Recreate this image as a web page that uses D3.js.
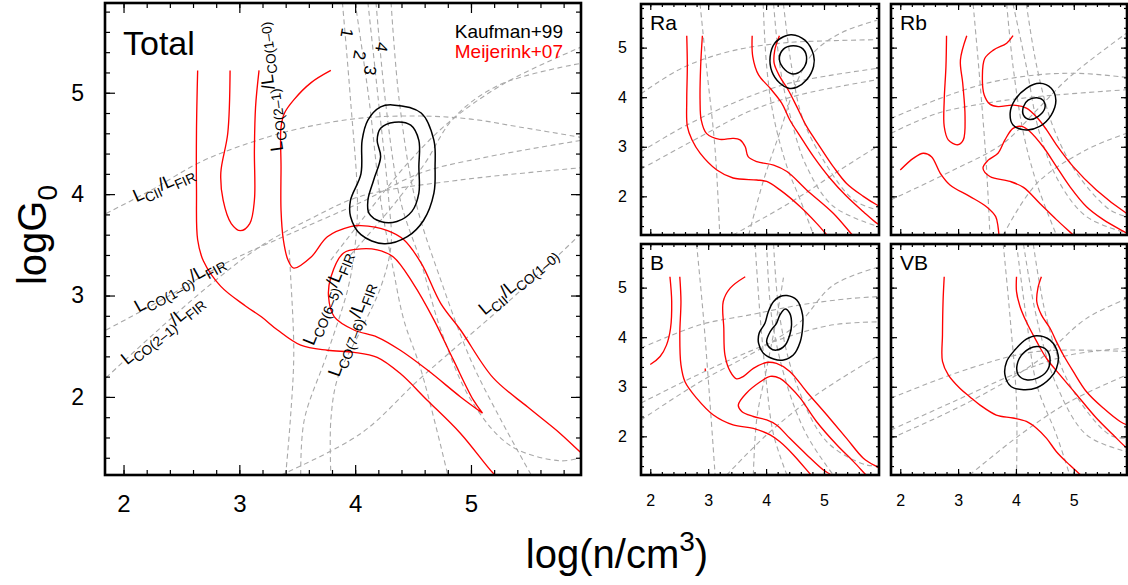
<!DOCTYPE html>
<html>
<head>
<meta charset="utf-8">
<script src="https://cdn.jsdelivr.net/npm/d3@7"></script>
<style>
  body { margin: 0; background: #fff; }
  svg { display: block; }
  text { font-family: "Liberation Sans", Arial, Helvetica, sans-serif; fill: #000; }
</style>
</head>
<body>
<svg id="chart" width="1128" height="585"></svg>
<script>

// ---- data: curves as [log n, log G0] points ----

let majorTicks = [2, 3, 4, 5];

// Total panel
let totalBlack = [
    [[4.32,4.88],[4.57,4.80],[4.68,4.53],[4.69,4.27],[4.68,4.01],[4.59,3.74],[4.45,3.58],[4.25,3.51],[4.05,3.60],[3.96,3.78],[3.96,3.94],[4.05,4.20],[4.06,4.53],[4.11,4.73],[4.22,4.86]],
    [[4.34,4.71],[4.48,4.68],[4.55,4.53],[4.55,4.27],[4.55,4.01],[4.49,3.83],[4.36,3.73],[4.22,3.73],[4.12,3.81],[4.11,3.94],[4.16,4.14],[4.22,4.37],[4.19,4.53],[4.22,4.65]]
];
let totalRed = [
    [[2.64,5.22],[2.63,4.63],[2.63,4.04],[2.64,3.55],[2.69,3.34],[2.84,3.09],[3.05,2.90],[3.19,2.79],[3.33,2.66],[3.53,2.51],[3.76,2.46],[3.99,2.44],[4.19,2.39],[4.39,2.23],[4.62,1.97],[4.91,1.64],[5.19,1.25],[5.25,1.19]],
    [[2.92,5.22],[2.90,4.60],[2.84,4.21],[2.86,3.94],[2.93,3.71],[3.01,3.64],[3.09,3.71],[3.13,3.94],[3.13,4.43],[3.14,4.86],[3.17,5.22]],
    [[3.79,5.22],[3.62,5.10],[3.47,4.93],[3.39,4.80],[3.36,4.66],[3.36,4.27],[3.36,3.84],[3.38,3.55],[3.42,3.35],[3.47,3.27],[3.62,3.38],[3.76,3.58],[3.96,3.68],[4.05,3.69],[4.28,3.64],[4.42,3.55],[4.57,3.32],[4.74,2.92],[4.91,2.66],[5.19,2.19],[5.49,1.90],[5.77,1.64],[5.95,1.45],[6.05,1.36]],
    [[5.10,1.84],[5.02,1.97],[4.85,2.36],[4.68,2.76],[4.50,3.12],[4.33,3.38],[4.19,3.45],[4.05,3.46],[3.90,3.42],[3.79,3.18],[3.77,2.99],[3.82,2.79],[3.99,2.66],[4.19,2.59],[4.39,2.46],[4.63,2.26],[4.91,2.00],[5.10,1.84]]
];
let totalGray = [
    [[1.85,3.81],[2.24,4.04],[2.67,4.32],[3.10,4.51],[3.53,4.65],[4.05,4.75],[4.57,4.77],[5.00,4.74],[5.43,4.66],[5.95,4.56]],
    [[1.85,2.66],[2.32,2.95],[2.90,3.33],[3.44,3.61],[4.05,3.92],[4.57,4.21],[5.11,4.36],[5.95,4.53]],
    [[1.85,2.19],[2.24,2.60],[2.73,3.09],[3.19,3.49],[3.62,3.76],[4.05,3.98],[4.91,4.14],[5.95,4.26]],
    [[3.79,3.35],[4.13,3.85],[4.45,4.30],[4.80,4.70],[5.30,5.10],[5.95,5.45]],
    [[3.96,3.40],[4.30,3.85],[4.60,4.30],[4.85,4.75],[5.25,5.08],[5.95,5.29]],
    [[3.36,1.23],[4.05,1.64],[4.54,2.16],[4.91,2.53],[5.43,3.05],[5.95,3.61]],
    [[3.89,5.89],[3.96,4.93],[4.02,3.94],[4.00,3.50],[3.94,3.08],[3.76,2.43],[3.56,1.77],[3.53,1.23]],
    [[4.11,5.89],[4.20,4.93],[4.29,3.94],[4.31,3.50],[4.22,3.08],[4.05,2.66],[3.85,2.19],[3.79,1.77],[3.79,1.23]],
    [[3.43,3.45],[3.44,3.25],[3.47,2.43],[3.44,1.77],[3.40,1.23]],
    [[4.00,5.89],[4.12,4.93],[4.22,3.94],[4.33,3.25],[4.42,2.76],[4.57,2.26],[4.80,1.23]],
    [[4.18,5.89],[4.26,4.93],[4.39,3.94],[4.57,3.32],[4.74,2.66],[5.00,1.97],[5.34,1.52],[5.77,1.37],[5.95,1.40]],
    [[4.31,5.89],[4.38,4.93],[4.52,3.94],[4.74,3.15],[5.00,2.36],[5.26,1.77],[5.52,1.23]]
];

// Ra panel
let raBlack = [
    [[4.44,5.26],[4.67,5.15],[4.82,4.85],[4.82,4.62],[4.70,4.35],[4.53,4.20],[4.39,4.18],[4.24,4.28],[4.10,4.52],[4.07,4.82],[4.15,5.09],[4.30,5.22]],
    [[4.47,5.04],[4.64,4.97],[4.70,4.76],[4.62,4.55],[4.47,4.47],[4.33,4.55],[4.23,4.76],[4.30,4.97]]
];
let raRed = [
    [[2.63,5.24],[2.64,4.62],[2.63,3.94],[2.64,3.41],[2.72,3.14],[2.86,2.87],[3.15,2.53],[3.43,2.37],[3.84,2.33],[4.01,2.30],[4.24,2.13],[4.59,1.79],[4.87,1.46],[5.05,1.22],[5.10,1.15]],
    [[2.90,5.24],[2.87,4.62],[2.86,3.94],[2.88,3.54],[2.97,3.27],[3.20,3.15],[3.43,3.17],[3.55,3.14],[3.64,3.00],[3.69,2.80],[3.84,2.70],[4.13,2.63],[4.36,2.50],[4.70,2.13],[5.16,1.66],[5.46,1.26],[5.52,1.18]],
    [[3.76,5.24],[3.77,4.82],[3.87,4.45],[4.07,4.18],[4.27,3.88],[4.41,3.54],[4.59,3.21],[4.82,2.80],[5.10,2.37],[5.39,2.00],[5.68,1.69],[5.91,1.46],[6.00,1.40]],
    [[4.23,5.24],[4.15,4.95],[4.14,4.68],[4.24,4.41],[4.38,4.15],[4.53,3.81],[4.70,3.41],[4.93,3.00],[5.16,2.60],[5.39,2.26],[5.68,2.00],[5.91,1.83],[6.00,1.78]]
];
let raGray = [
    [[1.84,4.07],[2.57,4.60],[3.43,4.94],[4.36,5.10],[5.16,5.14],[5.91,5.16]],
    [[1.84,2.90],[2.57,3.40],[3.43,3.88],[4.30,4.25],[5.16,4.45],[5.91,4.58]],
    [[1.84,2.55],[2.86,3.20],[3.72,3.72],[4.59,4.05],[5.91,4.35]],
    [[3.43,1.22],[4.01,1.60],[4.59,2.00],[5.30,2.55],[5.91,3.00]],
    [[2.86,5.88],[2.97,4.62],[3.12,2.94],[3.20,1.22]],
    [[3.95,5.88],[4.01,4.62],[4.13,3.61],[4.36,2.60],[4.59,1.93],[4.82,1.22]],
    [[4.13,5.88],[4.24,4.62],[4.42,3.61],[4.70,2.60],[5.16,1.80],[5.91,1.40]],
    [[4.30,5.88],[4.44,4.62],[4.62,3.61],[4.99,2.73],[5.51,1.93],[5.91,1.73]],
    [[3.70,1.22],[3.95,2.30],[4.24,3.30],[4.53,4.30],[4.82,4.90],[5.30,5.30],[5.91,5.55]]
];

// Rb panel
let rbBlack = [
    [[4.41,4.28],[4.61,4.18],[4.69,3.94],[4.61,3.64],[4.41,3.41],[4.18,3.34],[3.95,3.44],[3.90,3.68],[3.98,3.94],[4.18,4.18]],
    [[4.36,3.99],[4.47,3.94],[4.50,3.78],[4.38,3.61],[4.24,3.55],[4.13,3.64],[4.13,3.81],[4.21,3.94]]
];
let rbRed = [
    [[2.80,5.24],[2.79,4.62],[2.76,3.94],[2.76,3.41],[2.83,3.14],[2.99,3.04],[3.09,3.14],[3.12,3.61],[3.08,4.28],[3.04,4.75],[3.15,5.24]],
    [[3.95,5.24],[3.84,5.09],[3.61,4.95],[3.46,4.78],[3.42,4.41],[3.45,4.05],[3.55,3.86],[3.69,3.81],[3.95,3.84],[4.18,3.78],[4.38,3.57],[4.53,3.34],[4.70,3.04],[4.99,2.60],[5.39,2.13],[5.91,1.66],[6.00,1.60]],
    [[6.00,1.20],[5.91,1.26],[5.51,1.53],[5.22,1.79],[4.93,2.20],[4.70,2.60],[4.47,3.00],[4.24,3.31],[4.10,3.41],[3.95,3.37],[3.81,3.14],[3.69,2.87],[3.52,2.73],[3.43,2.57],[3.55,2.40],[3.90,2.30],[4.13,2.18],[4.41,1.86],[4.70,1.53],[4.99,1.22],[5.05,1.15]],
    [[2.00,2.53],[2.23,2.77],[2.40,2.87],[2.54,2.80],[2.69,2.47],[2.86,2.23],[3.20,2.00],[3.49,1.79],[3.65,1.59],[3.69,1.39],[3.71,1.15]]
];
let rbGray = [
    [[1.84,3.57],[2.63,3.95],[3.49,4.28],[4.36,4.45],[5.10,4.48],[5.91,4.40]],
    [[1.84,3.27],[2.63,3.67],[3.49,3.88],[4.36,4.01],[5.91,4.15]],
    [[1.84,1.93],[2.92,2.53],[3.78,3.07],[4.36,3.74],[4.93,4.41],[5.91,5.29]],
    [[3.78,1.22],[4.36,2.26],[5.22,2.94],[5.91,3.27]],
    [[3.26,5.88],[3.38,4.28],[3.49,2.60],[3.55,1.22]],
    [[3.84,5.88],[3.95,4.62],[4.13,3.27],[4.36,2.26],[4.70,1.22]],
    [[3.95,5.88],[4.18,4.62],[4.41,3.27],[4.76,2.26],[5.22,1.59],[5.91,1.26]],
    [[4.18,5.88],[4.36,4.62],[4.64,3.41],[5.05,2.47],[5.62,1.73],[5.91,1.59]]
];

// B panel
let bBlack = [
    [[4.36,4.84],[4.53,4.75],[4.63,4.45],[4.63,4.18],[4.59,3.91],[4.47,3.64],[4.30,3.54],[4.13,3.56],[3.95,3.68],[3.87,3.88],[3.88,4.08],[3.98,4.28],[4.04,4.52],[4.13,4.72],[4.24,4.82]],
    [[4.33,4.57],[4.41,4.48],[4.44,4.25],[4.41,4.05],[4.33,3.84],[4.18,3.74],[4.07,3.78],[4.01,3.91],[4.07,4.11],[4.18,4.28],[4.24,4.45]]
];
let bRed = [
    [[2.34,5.22],[2.37,4.72],[2.35,4.18],[2.28,3.84],[2.17,3.61],[2.00,3.45]],
    [[2.51,5.22],[2.53,4.72],[2.51,4.05],[2.53,3.44],[2.60,3.10],[2.80,2.77],[3.09,2.43],[3.43,2.23],[3.78,2.16],[4.07,2.03],[4.24,1.89],[4.47,1.63],[4.76,1.24],[4.82,1.16]],
    [[3.64,5.22],[3.38,4.99],[3.26,4.72],[3.27,4.18],[3.29,3.64],[3.38,3.31],[3.49,3.16],[3.61,3.21],[3.78,3.37],[4.01,3.49],[4.18,3.47],[4.41,3.31],[4.70,2.90],[5.05,2.43],[5.39,1.96],[5.68,1.56],[5.91,1.39],[6.00,1.34]],
    [[5.76,1.18],[5.71,1.24],[5.51,1.49],[5.22,1.83],[4.87,2.30],[4.59,2.77],[4.41,3.00],[4.24,3.17],[4.07,3.21],[3.90,3.10],[3.66,2.87],[3.52,2.63],[3.58,2.50],[3.78,2.40],[4.01,2.33],[4.18,2.23],[4.41,1.96],[4.70,1.63],[4.99,1.32],[5.10,1.24],[5.16,1.18]],
    [[2.95,3.37],[2.95,3.32]]
];
let bGray = [
    [[1.84,3.78],[2.86,4.25],[3.72,4.45],[4.59,4.65],[5.45,4.78],[5.96,4.82]],
    [[1.84,2.33],[2.86,3.10],[4.01,3.84],[4.59,4.31],[5.16,5.05],[5.96,5.42]],
    [[1.84,2.67],[2.57,3.10],[3.43,3.57],[4.30,3.98],[5.16,4.25],[5.96,4.31]],
    [[3.32,1.22],[4.01,2.03],[4.87,2.84],[5.96,3.64]],
    [[2.80,5.88],[2.92,4.38],[3.03,2.70],[3.12,1.22]],
    [[3.81,5.88],[3.90,4.38],[4.01,3.04],[4.13,2.03],[4.36,1.22]],
    [[4.01,5.88],[4.10,4.38],[4.36,3.04],[4.70,2.03],[5.16,1.22]],
    [[4.13,5.88],[4.24,4.38],[4.53,3.04],[5.05,1.89],[5.74,1.42],[5.96,1.42]],
    [[3.78,1.22],[3.84,2.36],[4.01,3.37],[4.18,4.38],[4.30,5.20]]
];

// VB panel
let vbBlack = [
    [[4.36,4.03],[4.59,3.94],[4.73,3.64],[4.70,3.37],[4.59,3.17],[4.36,2.98],[4.13,2.94],[3.92,3.00],[3.81,3.24],[3.84,3.51],[3.98,3.74],[4.18,3.96]],
    [[4.36,3.81],[4.53,3.74],[4.59,3.54],[4.53,3.31],[4.36,3.17],[4.18,3.14],[4.04,3.24],[4.02,3.44],[4.13,3.68]]
];
let vbRed = [
    [[2.76,5.22],[2.74,4.72],[2.73,4.05],[2.73,3.51],[2.83,3.24],[3.03,2.97],[3.20,2.80],[3.38,2.63],[3.66,2.43],[3.95,2.37],[4.18,2.30],[4.36,2.16],[4.53,1.96],[4.70,1.69],[4.93,1.42],[5.10,1.24],[5.16,1.18]],
    [[4.01,5.22],[4.01,4.92],[4.07,4.62],[4.18,4.31],[4.36,3.91],[4.53,3.57],[4.76,3.24],[5.05,2.84],[5.39,2.37],[5.68,2.03],[5.92,1.76],[6.00,1.70]],
    [[4.44,5.22],[4.38,4.99],[4.36,4.72],[4.44,4.45],[4.59,4.18],[4.70,3.91],[4.82,3.64],[4.99,3.31],[5.22,2.90],[5.51,2.57],[5.80,2.30],[5.92,2.23],[6.00,2.20]]
];
let vbGray = [
    [[1.84,2.77],[3.20,3.37],[4.36,3.71],[5.92,3.71]],
    [[1.84,2.13],[2.92,2.70],[4.07,3.30],[4.93,3.64],[5.92,3.78]],
    [[1.84,1.96],[3.20,2.70],[4.36,3.51],[5.22,4.38],[5.92,4.78]],
    [[3.20,1.22],[4.07,2.03],[4.93,2.70],[5.92,3.24]],
    [[3.78,5.88],[3.90,4.38],[4.01,2.70],[4.01,1.22]],
    [[4.01,5.88],[4.18,4.38],[4.36,3.04],[4.70,2.03],[4.93,1.22]],
    [[4.13,5.88],[4.36,4.38],[4.70,3.04],[5.22,2.03],[5.92,1.69]],
    [[4.30,5.88],[4.53,4.38],[4.93,3.04],[5.62,2.03],[5.92,1.96]]
];

// ---- layout ----

let Colors = {
    red: '#ff0000',
    black: '#000',
    gray: '#a9a9a9'
};

let panels = [
    { name: 'Total', x0: 105, x1: 581, y0: 3, y1: 475, xd: [1.84, 5.95], yd: [1.23, 5.885],
      red: totalRed, black: totalBlack, gray: totalGray, big: true, xLab: true, yLab: true },
    { name: 'Ra', x0: 641, x1: 879, y0: 4, y1: 235, xd: [1.84, 5.95], yd: [1.22, 5.88],
      red: raRed, black: raBlack, gray: raGray, xLab: false, yLab: true },
    { name: 'Rb', x0: 891, x1: 1127, y0: 4, y1: 235, xd: [1.84, 5.92], yd: [1.22, 5.88],
      red: rbRed, black: rbBlack, gray: rbGray, xLab: false, yLab: false },
    { name: 'B', x0: 641, x1: 879, y0: 244, y1: 475, xd: [1.84, 5.95], yd: [1.22, 5.88],
      red: bRed, black: bBlack, gray: bGray, xLab: true, yLab: true },
    { name: 'VB', x0: 891, x1: 1127, y0: 244, y1: 475, xd: [1.84, 5.92], yd: [1.22, 5.88],
      red: vbRed, black: vbBlack, gray: vbGray, xLab: true, yLab: false }
];

let svg = d3.select('#chart');

// text with sub/superscript pieces: parts = [[str, 'sub'|'sup'|undefined], ...]
function richText(g, parts, x, y, rot, size, anchor, subScale) {
    let sc = subScale || 0.7;
    let t = g.append('text')
        .attr('transform', `translate(${x},${y}) rotate(${rot})`)
        .attr('text-anchor', anchor || 'start')
        .style('font-size', size + 'px');
    let shift = 0;
    parts.forEach(p => {
        let want = p[1] === 'sub' ? size * 0.28 : p[1] === 'sup' ? -size * 0.42 : 0;
        let ts = t.append('tspan').text(p[0]).attr('dy', want - shift);
        if (p[1]) ts.style('font-size', (size * sc) + 'px');
        shift = want;
    });
    return t;
}

function drawPanel(p, idx) {
    let x = d3.scaleLinear().domain(p.xd).range([p.x0, p.x1]);
    let y = d3.scaleLinear().domain(p.yd).range([p.y1, p.y0]);
    let g = svg.append('g');

    let clipId = 'clip' + idx;
    svg.append('clipPath').attr('id', clipId)
        .append('rect')
        .attr('x', p.x0).attr('y', p.y0)
        .attr('width', p.x1 - p.x0).attr('height', p.y1 - p.y0);

    let plot = g.append('g').attr('clip-path', `url(#${clipId})`);

    let line = d3.line()
        .x(d => x(d[0])).y(d => y(d[1]))
        .curve(d3.curveCatmullRom.alpha(0.5));
    let loop = d3.line()
        .x(d => x(d[0])).y(d => y(d[1]))
        .curve(d3.curveCatmullRomClosed.alpha(0.5));

    plot.selectAll('path.gray')
        .data(p.gray)
        .join('path')
        .attr('class', 'gray')
        .attr('d', line)
        .attr('fill', 'none')
        .attr('stroke', Colors.gray)
        .attr('stroke-width', 1.1)
        .attr('stroke-dasharray', '5,3.5');

    plot.selectAll('path.red')
        .data(p.red)
        .join('path')
        .attr('class', 'red')
        .attr('d', line)
        .attr('fill', 'none')
        .attr('stroke', Colors.red)
        .attr('stroke-width', 1.35);

    plot.selectAll('path.black')
        .data(p.black)
        .join('path')
        .attr('class', 'black')
        .attr('d', loop)
        .attr('fill', 'none')
        .attr('stroke', Colors.black)
        .attr('stroke-width', 1.5);

    // ticks on all four sides, pointing inward
    let maj = p.big ? 10 : 6;
    let min = p.big ? 5 : 3;
    let minorX = d3.range(2, 6, 0.2).filter(v => v > p.xd[0] && v < p.xd[1]);
    let minorY = d3.range(1.4, 5.9, 0.2).filter(v => v > p.yd[0] && v < p.yd[1]);
    let lblSize = p.big ? 24 : 16;
    let ylblSize = p.big ? 23 : 16;

    let sides = [
        { make: () => d3.axisBottom(x), tr: `translate(0,${p.y1})`, minor: minorX, lab: p.xLab },
        { make: () => d3.axisTop(x), tr: `translate(0,${p.y0})`, minor: minorX, lab: false },
        { make: () => d3.axisLeft(y), tr: `translate(${p.x0},0)`, minor: minorY, lab: p.yLab },
        { make: () => d3.axisRight(y), tr: `translate(${p.x1},0)`, minor: minorY, lab: false }
    ];
    sides.forEach((s, i) => {
        g.append('g')
            .attr('transform', s.tr)
            .call(s.make().tickValues(s.minor).tickSize(-min).tickFormat(''))
            .call(a => a.select('.domain').remove());
        let ag = g.append('g')
            .attr('transform', s.tr)
            .call(s.make()
                .tickValues(majorTicks)
                .tickSize(-maj)
                .tickPadding(i === 0 ? 20 : (p.big ? 21 : 14))
                .tickFormat(s.lab ? d3.format('d') : ''))
            .call(a => a.select('.domain').remove());
        ag.selectAll('text')
            .style('font-size', (i === 0 ? lblSize : ylblSize) + 'px')
            .style('font-family', '"Liberation Sans", Arial, sans-serif')
            .attr('fill', '#000');
    });
    g.selectAll('line').attr('stroke', '#000').attr('stroke-width', 1.2);

    g.append('rect')
        .attr('x', p.x0).attr('y', p.y0)
        .attr('width', p.x1 - p.x0).attr('height', p.y1 - p.y0)
        .attr('fill', 'none')
        .attr('stroke', '#000')
        .attr('stroke-width', 2.6);

    g.append('text')
        .attr('x', p.x0 + (p.big ? 18 : 9))
        .attr('y', p.y0 + (p.big ? 52 : 26))
        .style('font-size', (p.big ? 34 : 21) + 'px')
        .text(p.name);

    return { x, y, g };
}

let drawn = panels.map(drawPanel);

// ---- annotations on the Total panel ----
let tot = drawn[0];
let ann = tot.g.append('g');

let annotations = [
    { parts: [['L'], ['CII', 'sub'], ['/L'], ['FIR', 'sub']], at: [2.11, 3.92], rot: -24 },
    { parts: [['L'], ['CO(1–0)', 'sub'], ['/L'], ['FIR', 'sub']], at: [2.13, 2.83], rot: -29 },
    { parts: [['L'], ['CO(2–1)', 'sub'], ['/L'], ['FIR', 'sub']], at: [2.03, 2.31], rot: -39 },
    { parts: [['L'], ['CO(2–1)', 'sub'], ['/L'], ['CO(1–0)', 'sub']], at: [3.38, 4.43], rot: -98 },
    { parts: [['L'], ['CO(6–5)', 'sub'], ['/L'], ['FIR', 'sub']], at: [3.64, 2.50], rot: -68 },
    { parts: [['L'], ['CO(7–6)', 'sub'], ['/L'], ['FIR', 'sub']], at: [3.86, 2.19], rot: -70 },
    { parts: [['L'], ['CII', 'sub'], ['/L'], ['CO(1–0)', 'sub']], at: [5.12, 2.80], rot: -40 }
];
annotations.forEach(a => {
    richText(ann, a.parts, tot.x(a.at[0]), tot.y(a.at[1]), a.rot, 18, 'start', 0.76);
});

let ladder = [
    { t: '1', at: [3.93, 5.59] },
    { t: '2', at: [4.04, 5.37] },
    { t: '3', at: [4.13, 5.22] },
    { t: '4', at: [4.23, 5.45] }
];
ladder.forEach(l => {
    ann.append('text')
        .attr('transform', `translate(${tot.x(l.at[0])},${tot.y(l.at[1])}) rotate(100)`)
        .attr('text-anchor', 'middle')
        .attr('dy', '0.35em')
        .style('font-size', '17px')
        .text(l.t);
});

// legend
ann.append('text').attr('x', 563).attr('y', 38).attr('text-anchor', 'end')
    .style('font-size', '19px').attr('fill', '#000').text('Kaufman+99');
ann.append('text').attr('x', 563).attr('y', 58).attr('text-anchor', 'end')
    .style('font-size', '19px').style('fill', Colors.red).text('Meijerink+07');

// axis titles
richText(svg, [['log(n/cm'], ['3', 'sup'], [')']], 617, 568, 0, 40, 'middle');
richText(svg, [['logG'], ['0', 'sub']], 46, 235, -90, 40, 'middle');

</script>
</body>
</html>
